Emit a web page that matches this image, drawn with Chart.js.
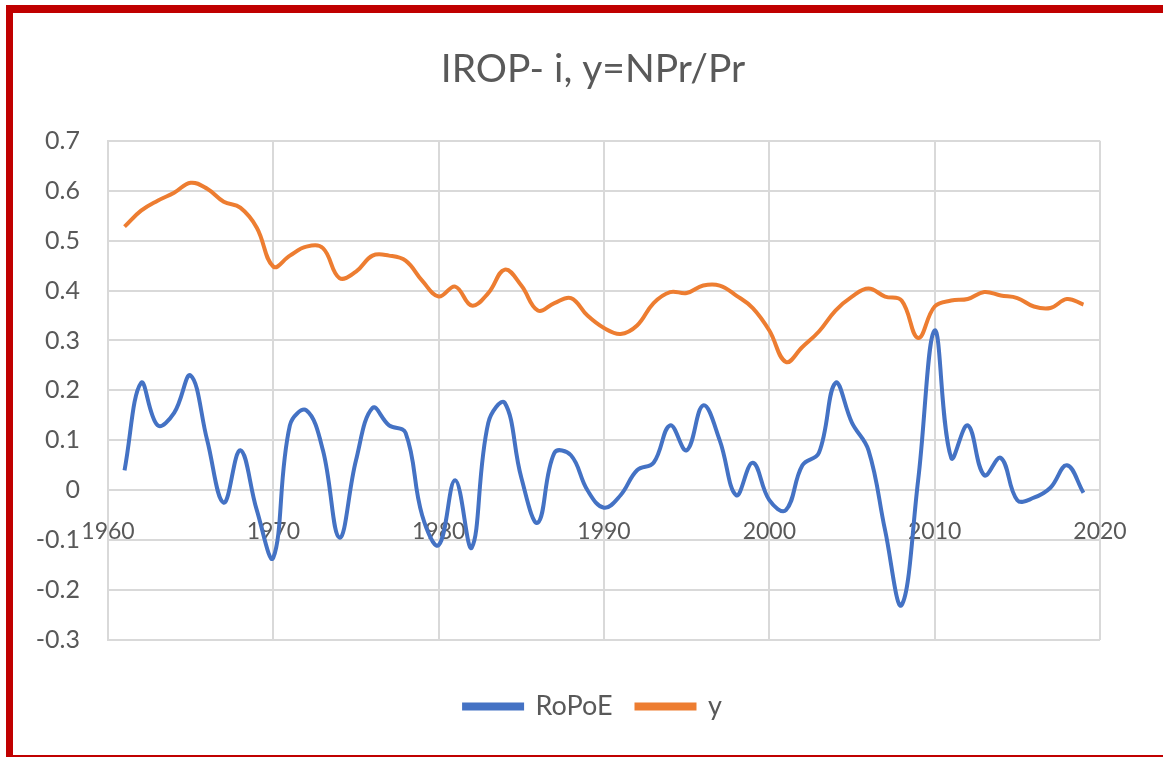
<!DOCTYPE html>
<html>
<head>
<meta charset="utf-8">
<script src="https://cdn.jsdelivr.net/npm/chart.js@4"></script>
<style>
  html, body { margin: 0; padding: 0; background: #fff; overflow: hidden; }
  #wrap { position: relative; width: 1163px; height: 758px; }
  #frame {
    position: absolute; left: 6px; top: 5px; right: 0; bottom: 1px;
    border-top: 8px solid #C00000; border-left: 7px solid #C00000;
    border-bottom: 2px solid #C00000; pointer-events: none;
  }
</style>
</head>
<body>
<div id="wrap">
  <canvas id="myChart" width="1163" height="758"></canvas>
  <div id="frame"></div>
</div>
<script>
const years = [];
for (let yr = 1961; yr <= 2019; yr++) years.push(yr);

const ropoe = [
  0.04, 0.215, 0.13, 0.155, 0.23, 0.10, -0.025, 0.08, -0.04, -0.135,
  0.13, 0.16, 0.08, -0.095, 0.06, 0.165, 0.13, 0.115, -0.05, -0.11,
  0.02, -0.115, 0.135, 0.175, 0.025, -0.065, 0.075, 0.07, 0.0, -0.035,
  -0.01, 0.04, 0.055, 0.13, 0.08, 0.17, 0.10, -0.01, 0.055, -0.02,
  -0.04, 0.05, 0.075, 0.215, 0.135, 0.08, -0.08, -0.23, 0.02, 0.32,
  0.065, 0.13, 0.03, 0.065, -0.02, -0.015, 0.005, 0.05, -0.005
];

const yRatio = [
  0.528, 0.56, 0.58, 0.596, 0.616, 0.604, 0.578, 0.566, 0.526, 0.448,
  0.47, 0.488, 0.485, 0.425, 0.438, 0.47, 0.47, 0.46, 0.42, 0.388,
  0.408, 0.37, 0.395, 0.442, 0.41, 0.36, 0.375, 0.385, 0.35, 0.325,
  0.313, 0.33, 0.375, 0.397, 0.395, 0.41, 0.41, 0.39, 0.365, 0.32,
  0.257, 0.287, 0.318, 0.36, 0.388, 0.404, 0.388, 0.38, 0.305, 0.368,
  0.38, 0.383, 0.397, 0.39, 0.385, 0.368, 0.365, 0.383, 0.372
];

const toPoints = (vals) => vals.map((v, i) => ({ x: years[i], y: v }));

const ctx = document.getElementById('myChart').getContext('2d');
const myChart = new Chart(ctx, {
  type: 'line',
  data: {
    datasets: [
      {
        label: 'RoPoE',
        data: toPoints(ropoe),
        borderColor: '#4472C4',
        backgroundColor: '#4472C4',
        borderWidth: 4,
        pointRadius: 0,
        tension: 0.4,
      },
      {
        label: 'y',
        data: toPoints(yRatio),
        borderColor: '#ED7D31',
        backgroundColor: '#ED7D31',
        borderWidth: 4,
        pointRadius: 0,
        tension: 0.4,
      },
    ],
  },
  options: {
    responsive: false,
    animation: false,
    layout: {
      padding: { left: 28, right: 5, top: 20, bottom: 28 },
    },
    plugins: {
      title: {
        display: true,
        text: 'IROP- i, y=NPr/Pr',
        color: '#595959',
        font: { family: 'Lato', size: 39, weight: 'normal' },
        padding: { top: 26, bottom: 48 },
      },
      // empty spacer between plot and legend
      subtitle: {
        display: true,
        position: 'bottom',
        weight: 500,
        text: '',
        font: { size: 10 },
        padding: { top: 17, bottom: 0 },
      },
      legend: {
        display: true,
        position: 'bottom',
        labels: {
          boxWidth: 58,
          boxHeight: 4,
          color: '#595959',
          padding: 24,
          font: { family: 'Lato', size: 27 },
        },
      },
      tooltip: { enabled: false },
    },
    scales: {
      x: {
        type: 'linear',
        min: 1960,
        max: 2020,
        position: { y: 0 },
        border: { display: true, color: '#D9D9D9', width: 2 },
        grid: { color: '#D9D9D9', lineWidth: 2, drawTicks: false },
        ticks: {
          stepSize: 10,
          color: '#595959',
          padding: 28,
          font: { family: 'Lato', size: 23 },
          callback: (v) => v,
        },
      },
      y: {
        min: -0.3,
        max: 0.7,
        afterFit: (scale) => { scale.width = 80; },
        border: { display: true, color: '#D9D9D9', width: 2 },
        grid: { color: '#D9D9D9', lineWidth: 2, drawTicks: false },
        ticks: {
          stepSize: 0.1,
          color: '#595959',
          padding: 28,
          font: { family: 'Lato', size: 25 },
          callback: (v) => Math.round(v * 10) / 10,
        },
      },
      // blank right-hand spacer so the title sits where Excel put it
      y2: {
        position: 'right',
        min: -0.3,
        max: 0.7,
        afterFit: (scale) => { scale.width = 58; },
        grid: { display: false },
        border: { display: false },
        ticks: { display: false },
      },
    },
  },
});
</script>
</body>
</html>
